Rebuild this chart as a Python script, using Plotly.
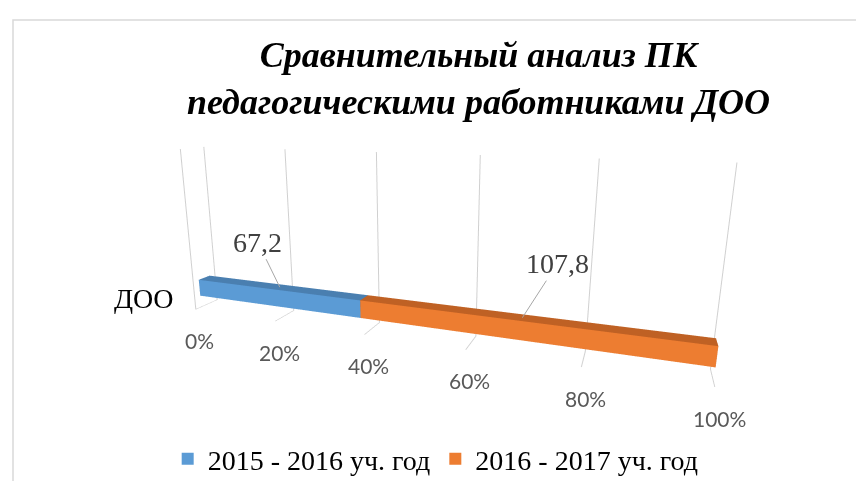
import plotly.graph_objects as go

# ---- data ----
categories = ["ДОО"]
series_names = ["2015 - 2016 уч. год", "2016 - 2017 уч. год"]
series_values = [67.2, 107.8]
series_labels = ["67,2", "107,8"]
tick_vals = [0, 0.2, 0.4, 0.6, 0.8, 1.0]
tick_text = ["0%", "20%", "40%", "60%", "80%", "100%"]
front_colors = ["#5B9BD5", "#ED7D31"]
top_colors = ["#4A7FB0", "#BF6124"]

W, H = 864, 481
total = sum(series_values)
shares = [v / total for v in series_values]

# bar geometry in the depth/height directions (scene units 0..1)
Y0, Y1 = 0.25, 0.75
Z0, Z1 = 0.075, 0.18

def box(x0, x1, front, top):
    xs = [x0, x1, x1, x0, x0, x1, x1, x0]
    ys = [Y0, Y0, Y1, Y1, Y0, Y0, Y1, Y1]
    zs = [Z0, Z0, Z0, Z0, Z1, Z1, Z1, Z1]
    i = [0, 0, 4, 4, 0, 0, 3, 3, 0, 0, 1, 1]
    j = [1, 2, 5, 6, 1, 5, 2, 6, 3, 7, 2, 6]
    k = [2, 3, 6, 7, 5, 4, 6, 7, 7, 4, 6, 5]
    fc = [top, top, top, top, front, front, front, front, top, top, top, top]
    return xs, ys, zs, i, j, k, fc

fig = go.Figure()

# front-left edge of the side wall
fig.add_trace(go.Scatter3d(x=[0, 0], y=[0, 0], z=[0, 1], mode="lines",
                           line=dict(color="#d0d0d0", width=2),
                           hoverinfo="skip", showlegend=False))

start = 0.0
annotations3d = []
offsets = [(-22, -45), (35, -54)]
for n, (name, s) in enumerate(zip(series_names, shares)):
    xs, ys, zs, i, j, k, fc = box(start, start + s, front_colors[n], top_colors[n])
    fig.add_trace(go.Mesh3d(
        x=xs, y=ys, z=zs, i=i, j=j, k=k, facecolor=fc, flatshading=True,
        lighting=dict(ambient=1, diffuse=0, specular=0, roughness=1, fresnel=0),
        hoverinfo="skip", showlegend=False, name=name))
    annotations3d.append(dict(
        x=start + s / 2, y=(Y0 + Y1) / 2, z=Z1, text=series_labels[n],
        showarrow=True, arrowhead=0, arrowwidth=1, arrowcolor="#a6a6a6",
        ax=offsets[n][0], ay=offsets[n][1],
        font=dict(family="Liberation Serif", size=28, color="#404040")))
    start += s

# value-axis tick labels, placed under the front edge of the floor
for tv, tt in zip(tick_vals, tick_text):
    annotations3d.append(dict(
        x=tv, y=0, z=0, text=tt, showarrow=False, xshift=4, yshift=-31,
        font=dict(family="Lato", size=21, color="#595959")))

# legend entries
for n, name in enumerate(series_names):
    fig.add_trace(go.Scatter(
        x=[None], y=[None], mode="markers", name=name,
        marker=dict(symbol="square", size=14, color=front_colors[n])))

hidden = dict(showgrid=False, zeroline=False, showline=False, showbackground=False,
              showticklabels=False, showspikes=False, title=dict(text=""), ticks="")

fig.update_layout(
    template="none",
    width=W, height=H,
    margin=dict(l=0, r=0, t=0, b=0),
    paper_bgcolor="white", plot_bgcolor="white",
    hovermode=False,
    xaxis=dict(visible=False), yaxis=dict(visible=False),
    scene=dict(
        bgcolor="rgba(0,0,0,0)",
        domain=dict(x=[0.0, 0.954], y=[0.0, 1.0]),
        xaxis=dict(range=[0, 1], tickvals=tick_vals, showticklabels=False,
                   showgrid=True, gridcolor="#d0d0d0", gridwidth=2,
                   zeroline=False, showline=False, showbackground=False,
                   showspikes=False, ticks="", title=dict(text="")),
        yaxis=dict(range=[0, 1], **hidden),
        zaxis=dict(range=[0, 1], **hidden),
        aspectmode="manual",
        aspectratio=dict(x=3.1, y=0.21, z=1.05),
        camera=dict(eye=dict(x=1.133, y=-2.985, z=0.778), center=dict(x=0, y=0, z=0),
                    up=dict(x=0, y=0, z=1), projection=dict(type="perspective")),
        annotations=annotations3d,
    ),
    legend=dict(orientation="h", x=0.495, xanchor="center", y=1 - 451 / H, yanchor="middle",
                font=dict(family="Liberation Serif", size=28, color="#000000"),
                itemsizing="constant", bgcolor="rgba(0,0,0,0)"),
    annotations=[
        dict(text="Сравнительный анализ ПК<br>педагогическими работниками ДОО",
             xref="paper", yref="paper", x=471 / W, y=1 - 70 / H,
             xanchor="center", yanchor="middle", showarrow=False,
             font=dict(family="Liberation Serif", size=36, color="#000000",
                       weight="bold", style="italic")),
        dict(text=categories[0], xref="paper", yref="paper", x=136 / W, y=1 - 290 / H,
             xanchor="center", yanchor="middle", showarrow=False,
             font=dict(family="Liberation Serif", size=28, color="#000000")),
    ],
    shapes=[dict(type="rect", xref="paper", yref="paper", x0=5 / W, x1=1.2,
                 y0=-0.2, y1=1 - 12 / H, line=dict(color="#d9d9d9", width=1.5),
                 layer="below")],
)

fig.write_html("out.html")
